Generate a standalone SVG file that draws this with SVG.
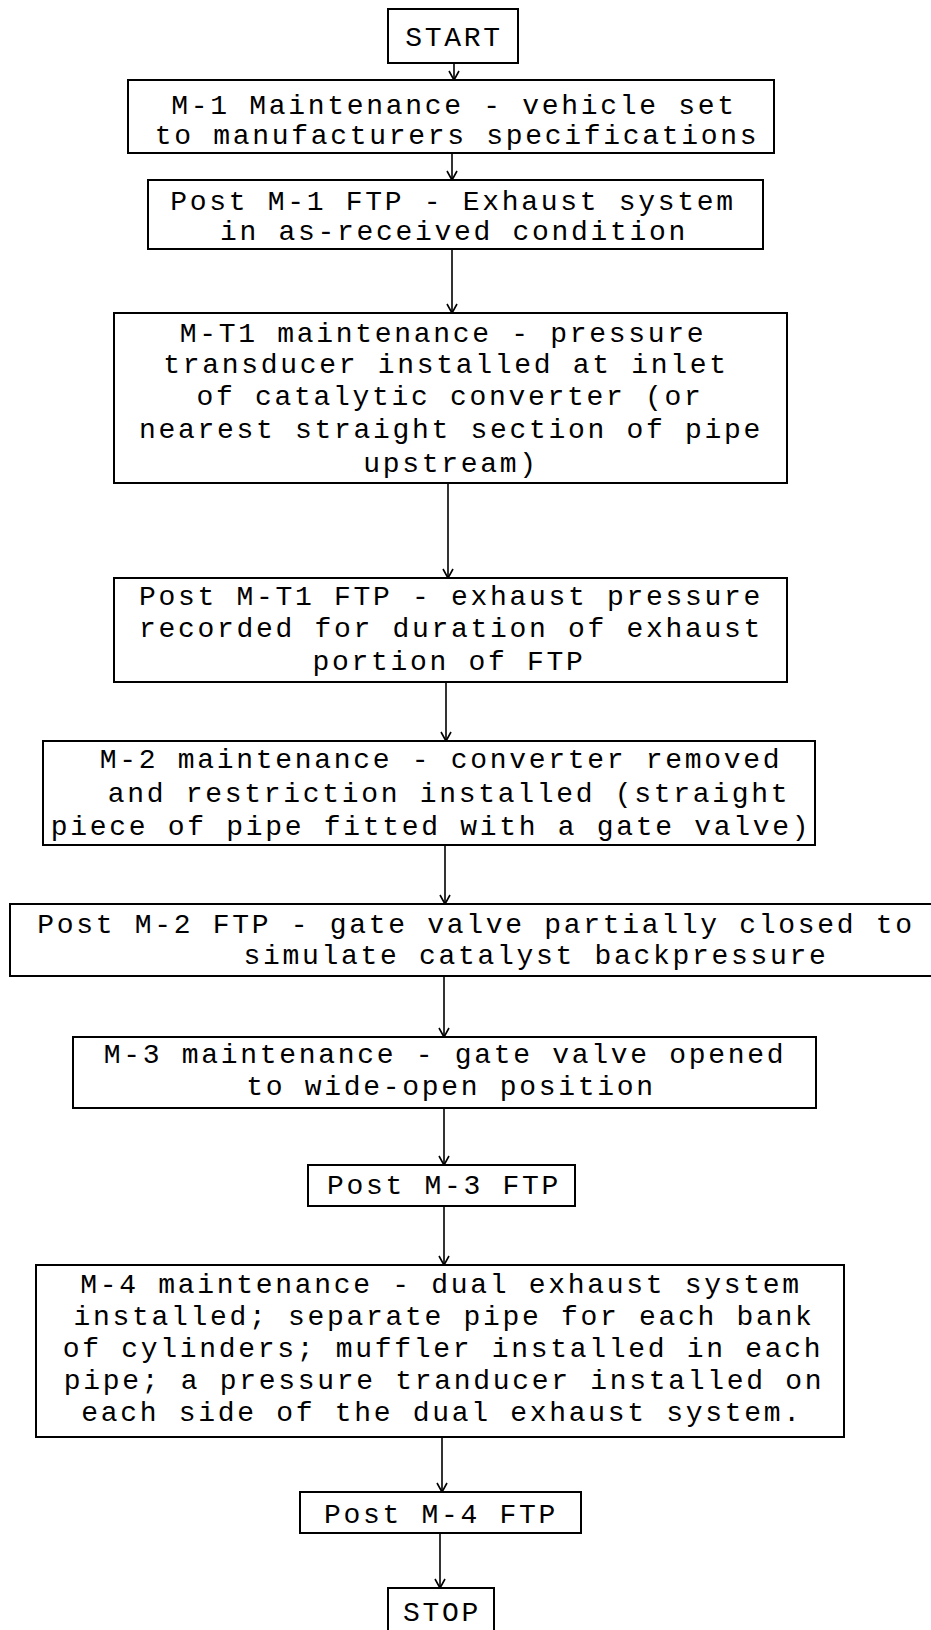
<svg xmlns="http://www.w3.org/2000/svg" width="931" height="1630" viewBox="0 0 931 1630">
<style>
.box{fill:#fff;stroke:#000;stroke-width:2}
.t{font-family:"Liberation Mono","Courier New",monospace;font-size:28px;letter-spacing:2.7px;fill:#000;text-anchor:middle}
.c{stroke:#000;stroke-width:1.6;fill:none}
</style>
<defs>
<marker id="ah" viewBox="-10 -6 12 12" markerWidth="12" markerHeight="12" refX="0" refY="0" orient="auto" markerUnits="userSpaceOnUse">
<path d="M-9,-5 L0,0 L-9,5" fill="none" stroke="#000" stroke-width="1.6"/>
</marker>
</defs>
<rect x="0" y="0" width="931" height="1630" fill="#fff"/>
<g id="connectors">
<line class="c" x1="454" y1="63" x2="454" y2="80" marker-end="url(#ah)"/>
<line class="c" x1="452" y1="153" x2="452" y2="180" marker-end="url(#ah)"/>
<line class="c" x1="452" y1="249" x2="452" y2="313" marker-end="url(#ah)"/>
<line class="c" x1="448" y1="483" x2="448" y2="578" marker-end="url(#ah)"/>
<line class="c" x1="446" y1="682" x2="446" y2="741" marker-end="url(#ah)"/>
<line class="c" x1="445" y1="845" x2="445" y2="904" marker-end="url(#ah)"/>
<line class="c" x1="444" y1="976" x2="444" y2="1037" marker-end="url(#ah)"/>
<line class="c" x1="444" y1="1108" x2="444" y2="1165" marker-end="url(#ah)"/>
<line class="c" x1="444" y1="1206" x2="444" y2="1265" marker-end="url(#ah)"/>
<line class="c" x1="442" y1="1437" x2="442" y2="1492" marker-end="url(#ah)"/>
<line class="c" x1="440" y1="1533" x2="440" y2="1588" marker-end="url(#ah)"/>
</g>
<g id="start">
<rect class="box" x="388" y="9" width="130" height="54"/>
<text class="t" x="454" y="46">START</text>
</g>
<g id="m1">
<rect class="box" x="128" y="80" width="646" height="73"/>
<text class="t" x="454" y="114">M-1 Maintenance - vehicle set</text>
<text class="t" x="457" y="144">to manufacturers specifications</text>
</g>
<g id="postm1">
<rect class="box" x="148" y="180" width="615" height="69"/>
<text class="t" x="453" y="210">Post M-1 FTP - Exhaust system</text>
<text class="t" x="454" y="240">in as-received condition</text>
</g>
<g id="mt1">
<rect class="box" x="114" y="313" width="673" height="170"/>
<text class="t" x="443" y="342">M-T1 maintenance - pressure</text>
<text class="t" x="446" y="373">transducer installed at inlet</text>
<text class="t" x="450" y="405">of catalytic converter (or</text>
<text class="t" x="451" y="438">nearest straight section of pipe</text>
<text class="t" x="451" y="472">upstream)</text>
</g>
<g id="postmt1">
<rect class="box" x="114" y="578" width="673" height="104"/>
<text class="t" x="451" y="605">Post M-T1 FTP - exhaust pressure</text>
<text class="t" x="451" y="637">recorded for duration of exhaust</text>
<text class="t" x="449" y="670">portion of FTP</text>
</g>
<g id="m2">
<rect class="box" x="43" y="741" width="772" height="104"/>
<text class="t" x="441" y="768">M-2 maintenance - converter removed</text>
<text class="t" x="449" y="802">and restriction installed (straight</text>
<text class="t" x="431" y="835">piece of pipe fitted with a gate valve)</text>
</g>
<g id="postm2">
<rect class="box" x="10" y="904" width="925" height="72"/>
<text class="t" x="476" y="933">Post M-2 FTP - gate valve partially closed to</text>
<text class="t" x="536" y="964">simulate catalyst backpressure</text>
</g>
<g id="m3">
<rect class="box" x="73" y="1037" width="743" height="71"/>
<text class="t" x="445" y="1063">M-3 maintenance - gate valve opened</text>
<text class="t" x="451" y="1095">to wide-open position</text>
</g>
<g id="postm3">
<rect class="box" x="308" y="1165" width="267" height="41"/>
<text class="t" x="444" y="1194">Post M-3 FTP</text>
</g>
<g id="m4">
<rect class="box" x="36" y="1265" width="808" height="172"/>
<text class="t" x="441" y="1293">M-4 maintenance - dual exhaust system</text>
<text class="t" x="444" y="1325">installed; separate pipe for each bank</text>
<text class="t" x="443" y="1357">of cylinders; muffler installed in each</text>
<text class="t" x="444" y="1389">pipe; a pressure tranducer installed on</text>
<text class="t" x="442" y="1421">each side of the dual exhaust system.</text>
</g>
<g id="postm4">
<rect class="box" x="300" y="1492" width="281" height="41"/>
<text class="t" x="441" y="1523">Post M-4 FTP</text>
</g>
<g id="stop">
<rect class="box" x="388" y="1588" width="106" height="60"/>
<text class="t" x="442" y="1621">STOP</text>
</g>
</svg>
